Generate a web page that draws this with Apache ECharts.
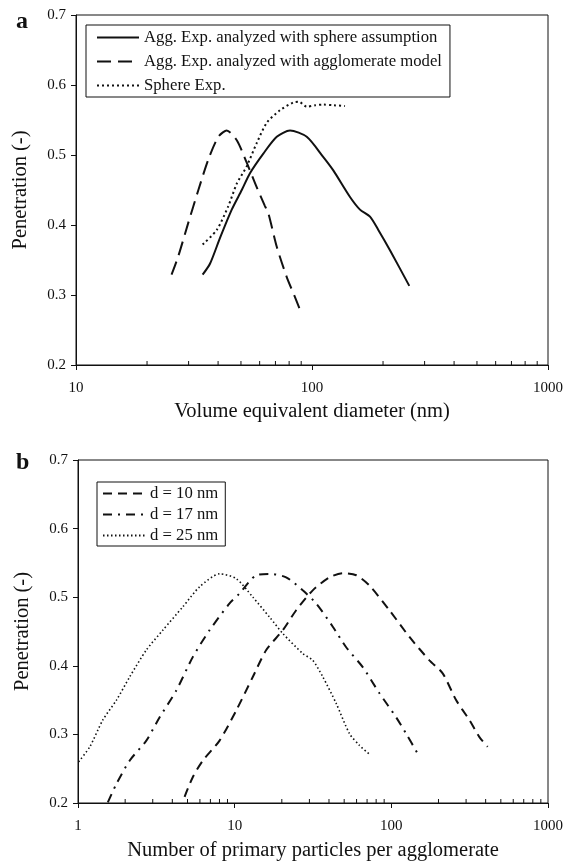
<!DOCTYPE html>
<html>
<head>
<meta charset="utf-8">
<script src="https://cdn.jsdelivr.net/npm/echarts@6/dist/echarts.min.js"></script>
<style>
html,body{margin:0;padding:0;background:#fff;}
#chart{width:566px;height:867px;}
</style>
</head>
<body>
<div id="chart"></div>
<script>
// ---- Panel a data ----
const aSphereAssumX = [34.4, 37.0, 40.8, 45.7, 50.4, 54.6, 62.2, 70.9, 80.7, 95.0, 111.7, 123.1, 144.9, 159.7, 176.1, 191.0, 214.0, 258.4];
const aSphereAssumY = [0.329, 0.345, 0.382, 0.422, 0.450, 0.474, 0.502, 0.526, 0.535, 0.526, 0.497, 0.478, 0.440, 0.422, 0.412, 0.393, 0.364, 0.313];
const aAggModelX = [25.4, 27.1, 29.9, 33.0, 36.4, 40.1, 43.5, 48.0, 52.9, 58.3, 63.2, 65.3, 70.9, 78.1, 84.7, 90.4];
const aAggModelY = [0.329, 0.355, 0.403, 0.450, 0.494, 0.526, 0.535, 0.521, 0.489, 0.454, 0.427, 0.417, 0.369, 0.326, 0.297, 0.273];
const aSphereExpX = [34.4, 39.5, 44.2, 48.0, 52.9, 58.3, 64.3, 73.2, 83.3, 88.0, 95.0, 103.0, 111.7, 124.0, 138.0];
const aSphereExpY = [0.372, 0.393, 0.427, 0.459, 0.484, 0.517, 0.546, 0.564, 0.575, 0.576, 0.569, 0.571, 0.572, 0.571, 0.570];
const aNames = ['Agg. Exp. analyzed with sphere assumption', 'Agg. Exp. analyzed with agglomerate model', 'Sphere Exp.'];

// ---- Panel b data ----
const bD10X = [4.79, 5.41, 6.27, 8.01, 10.24, 13.07, 15.9, 20.3, 24.7, 31.5, 40.3, 49.0, 59.7, 72.5, 97.2, 130.5, 175, 212.7, 259, 315, 365, 412];
const bD10Y = [0.209, 0.238, 0.262, 0.291, 0.335, 0.384, 0.423, 0.452, 0.481, 0.510, 0.529, 0.535, 0.532, 0.517, 0.481, 0.442, 0.408, 0.389, 0.350, 0.321, 0.296, 0.282];
const bD17X = [1.55, 1.76, 2.14, 2.73, 3.32, 4.24, 5.41, 6.92, 9.28, 10.7, 13.7, 16.7, 21.3, 27.2, 33.1, 42.3, 51.5, 65.7, 84.0, 107.3, 124.3, 147.3];
const bD17Y = [0.201, 0.228, 0.262, 0.291, 0.325, 0.364, 0.413, 0.452, 0.491, 0.505, 0.532, 0.534, 0.529, 0.510, 0.491, 0.457, 0.427, 0.398, 0.360, 0.325, 0.301, 0.272];
const bD25X = [1.01, 1.19, 1.44, 1.76, 2.14, 2.73, 3.48, 4.67, 5.97, 8.01, 10.24, 13.07, 16.7, 20.3, 27.2, 31.5, 36.5, 44.5, 54.1, 62.6, 71.8];
const bD25Y = [0.260, 0.282, 0.321, 0.350, 0.384, 0.423, 0.452, 0.486, 0.515, 0.534, 0.527, 0.500, 0.471, 0.447, 0.418, 0.408, 0.384, 0.345, 0.301, 0.284, 0.272];
const bNames = ['d = 10 nm', 'd = 17 nm', 'd = 25 nm'];

// ---- axes ----
const aXRange = [10, 1000];
const bXRange = [1, 1000];
const yRange = [0.2, 0.7];
const yStep = 0.1;
const aMinorTicks = [20, 30, 40, 50, 60, 70, 80, 90, 200, 300, 400, 500, 600, 700, 800, 900];
const bMinorTicks = [2, 3, 4, 5, 6, 7, 8, 9, 20, 30, 40, 50, 60, 70, 80, 90, 200, 300, 400, 500, 600, 700, 800, 900];
const aXTitle = 'Volume equivalent diameter (nm)';
const bXTitle = 'Number of primary particles per agglomerate';
const yTitle = 'Penetration (-)';

const FONT = '"Liberation Serif", "DejaVu Serif", serif';
const INK = '#111';
const TITLE_SIZE = 20.5;

function pairs(xs, ys) { return xs.map((x, i) => [x, ys[i]]); }

function xAxisCfg(gi, range, title, gap) {
  return {
    type: 'log', logBase: 10, gridIndex: gi, min: range[0], max: range[1],
    name: title, nameLocation: 'middle', nameGap: gap,
    nameTextStyle: { fontFamily: FONT, fontSize: TITLE_SIZE, color: INK },
    axisLine: { show: true, lineStyle: { color: INK, width: 1 } },
    axisTick: { show: true, length: 5, lineStyle: { color: INK } },
    axisLabel: { fontFamily: FONT, fontSize: 15, color: INK, margin: 16, formatter: v => String(v) },
    splitLine: { show: false }
  };
}
function yAxisCfg(gi) {
  return {
    type: 'value', gridIndex: gi, min: yRange[0], max: yRange[1], interval: yStep,
    name: yTitle, nameLocation: 'middle', nameGap: 45,
    nameTextStyle: { fontFamily: FONT, fontSize: TITLE_SIZE, color: INK },
    axisLine: { show: true, lineStyle: { color: INK, width: 1 } },
    axisTick: { show: true, length: 5, lineStyle: { color: INK } },
    axisLabel: { fontFamily: FONT, fontSize: 15, color: INK, margin: 10, formatter: v => v.toFixed(1) },
    splitLine: { show: false }
  };
}
function lineSeries(name, xi, yi, data, type, width) {
  return {
    name: name, type: 'line', xAxisIndex: xi, yAxisIndex: yi, data: data,
    symbol: 'none', smooth: 0.25, animation: false,
    lineStyle: { color: INK, width: width, type: type },
    itemStyle: { color: INK }
  };
}
function minorSeries(xi, yi, ticks) {
  return {
    type: 'custom', xAxisIndex: xi, yAxisIndex: yi, silent: true, animation: false,
    data: ticks.map(v => [v, yRange[0]]),
    renderItem: function (params, api) {
      const p = api.coord([api.value(0), api.value(1)]);
      return { type: 'line', shape: { x1: p[0], y1: p[1], x2: p[0], y2: p[1] - 4 }, style: { stroke: INK, lineWidth: 1 } };
    }
  };
}

const chart = echarts.init(document.getElementById('chart'), null, { renderer: 'canvas' });
chart.setOption({
  backgroundColor: '#fff',
  animation: false,
  grid: [
    { left: 76, top: 15, width: 472, height: 350, show: true, borderColor: INK, borderWidth: 1, containLabel: false },
    { left: 78, top: 460, width: 470, height: 343, show: true, borderColor: INK, borderWidth: 1, containLabel: false }
  ],
  xAxis: [xAxisCfg(0, aXRange, aXTitle, 36), xAxisCfg(1, bXRange, bXTitle, 37)],
  yAxis: [yAxisCfg(0), yAxisCfg(1)],
  legend: [
    {
      data: aNames, orient: 'vertical', left: 86, top: 25,
      itemWidth: 42, itemHeight: 14, itemGap: 7,
      itemStyle: { opacity: 0 },
      padding: [4, 8, 3, 10], borderColor: INK, borderWidth: 1,
      textStyle: { fontFamily: FONT, fontSize: 16.7, color: INK }, selectedMode: false
    },
    {
      data: bNames, orient: 'vertical', left: 97, top: 482,
      itemWidth: 42, itemHeight: 14, itemGap: 4,
      itemStyle: { opacity: 0 },
      padding: [3, 7, 2, 5], borderColor: INK, borderWidth: 1,
      textStyle: { fontFamily: FONT, fontSize: 16.7, color: INK }, selectedMode: false
    }
  ],
  graphic: [
    { type: 'text', left: 16, top: 10, style: { text: 'a', font: 'bold 24px ' + FONT, fill: INK } },
    { type: 'text', left: 16, top: 451, style: { text: 'b', font: 'bold 24px ' + FONT, fill: INK } }
  ],
  series: [
    lineSeries(aNames[0], 0, 0, pairs(aSphereAssumX, aSphereAssumY), 'solid', 2),
    lineSeries(aNames[1], 0, 0, pairs(aAggModelX, aAggModelY), [14, 7], 2),
    lineSeries(aNames[2], 0, 0, pairs(aSphereExpX, aSphereExpY), [2, 3], 2),
    minorSeries(0, 0, aMinorTicks),
    lineSeries(bNames[0], 1, 1, pairs(bD10X, bD10Y), [9, 6], 2),
    lineSeries(bNames[1], 1, 1, pairs(bD17X, bD17Y), [9, 6, 2, 6], 2),
    lineSeries(bNames[2], 1, 1, pairs(bD25X, bD25Y), [1.5, 2.5], 1.6),
    minorSeries(1, 1, bMinorTicks)
  ]
});
</script>
</body>
</html>
